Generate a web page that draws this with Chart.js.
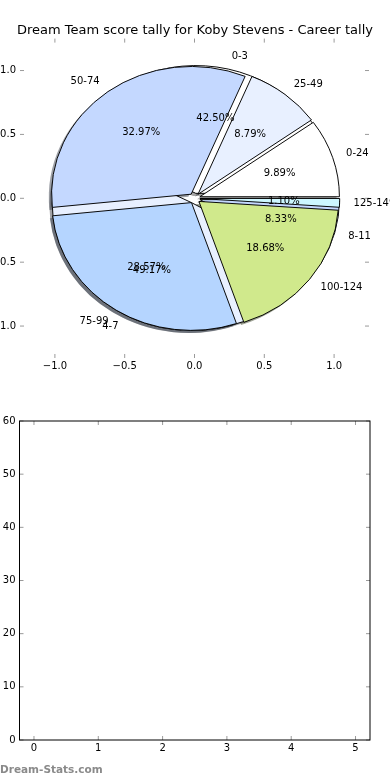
<!DOCTYPE html>
<html><head><meta charset="utf-8">
<script src="https://cdn.jsdelivr.net/npm/chart.js@4/dist/chart.umd.min.js"></script>
<style>
html,body{margin:0;padding:0;background:#fff;width:390px;height:780px;overflow:hidden;}
#wrap{position:relative;width:390px;height:780px;}
canvas{position:absolute;left:0;}
#wm{position:absolute;left:0;top:763px;font:bold 10.5px "DejaVu Sans",sans-serif;color:#8a8a8a;white-space:nowrap;}
</style></head><body>
<div id="wrap">
<canvas id="sh2" width="390" height="390" style="top:0"></canvas>
<canvas id="sh1" width="390" height="390" style="top:0"></canvas>
<canvas id="pie2" width="390" height="390" style="top:0"></canvas>
<canvas id="pie1" width="390" height="390" style="top:0"></canvas>
<canvas id="axes" width="390" height="390" style="top:0"></canvas>
<canvas id="bottom" width="390" height="385" style="top:395px"></canvas>
<div id="wm">Dream-Stats.com</div>
</div>
<script>
// ---- data ----
const titleText = 'Dream Team score tally for Koby Stevens - Career tally';
const scoreLabels = ['0-24', '25-49', '50-74', '75-99', '100-124', '125-149'];
const scoreValues = [9, 8, 30, 26, 17, 1];
const scoreColors = ['#ffffff', '#e8f0ff', '#c4d8ff', '#b5d5ff', '#d0e98c', '#cdf7ff'];
const tallyLabels = ['0-3', '4-7', '8-11'];
const tallyValues = [51, 59, 10];
const tallyColors = ['#ffffff', '#e8f0ff', '#c4d8ff'];
const pieAxisTicks = [-1.0, -0.5, 0.0, 0.5, 1.0];
const bottomCategories = [0, 1, 2, 3, 4, 5];
const bottomValues = [0, 0, 0, 0, 0, 0];
const bottomYTicks = [0, 10, 20, 30, 40, 50, 60];

// ---- style constants ----
const FONT = '"DejaVu Sans", sans-serif';
const EXPLODE = 0.04, LABEL_DIST = 1.1, PCT_DIST = 0.6;
const TICK_COLOR = '#9a9a9a', TICK_LEN = 4;
Chart.defaults.font.family = FONT;
Chart.defaults.font.size = 10;
Chart.defaults.color = '#000';

const fmt = v => (v < 0 ? '\u2212' : '') + Math.abs(v).toFixed(1);

function line(ctx, x1, y1, x2, y2) { ctx.beginPath(); ctx.moveTo(x1, y1); ctx.lineTo(x2, y2); ctx.stroke(); }

function drawInwardTicks(chart) {
  const ctx = chart.ctx, a = chart.chartArea, xs = chart.scales.x, ys = chart.scales.y;
  ctx.save();
  ctx.strokeStyle = TICK_COLOR; ctx.lineWidth = 1;
  xs.ticks.forEach(t => { const p = xs.getPixelForValue(t.value);
    line(ctx, p, a.top, p, a.top + TICK_LEN); line(ctx, p, a.bottom, p, a.bottom - TICK_LEN); });
  ys.ticks.forEach(t => { const p = ys.getPixelForValue(t.value);
    line(ctx, a.left, p, a.left + TICK_LEN, p); line(ctx, a.right, p, a.right - TICK_LEN, p); });
  ctx.restore();
}

function drawPieText(chart, labels, values) {
  const ctx = chart.ctx, xs = chart.scales.x, ys = chart.scales.y;
  const total = values.reduce((s, v) => s + v, 0);
  let acc = 0;
  ctx.save();
  ctx.fillStyle = '#000';
  ctx.font = '10px ' + FONT;
  ctx.textBaseline = 'middle';
  labels.forEach((lab, i) => {
    const frac = values[i] / total;
    const th = 2 * Math.PI * (acc + frac / 2); acc += frac;
    const c = Math.cos(th), s = Math.sin(th);
    const lx = EXPLODE * c + LABEL_DIST * c, ly = EXPLODE * s + LABEL_DIST * s;
    ctx.textAlign = lx < 0 ? 'right' : 'left';
    ctx.fillText(lab, xs.getPixelForValue(lx), ys.getPixelForValue(ly));
    const px = EXPLODE * c + PCT_DIST * c, py = EXPLODE * s + PCT_DIST * s;
    ctx.textAlign = 'center';
    ctx.fillText((frac * 100).toFixed(2) + '%', xs.getPixelForValue(px), ys.getPixelForValue(py));
  });
  ctx.restore();
}

const pieDecor = {
  id: 'pieDecor',
  afterDraw(chart) {
    drawInwardTicks(chart);
    drawPieText(chart, scoreLabels, scoreValues);
    drawPieText(chart, tallyLabels, tallyValues);
  }
};

const setTicks = arr => s => { s.ticks = arr.map(v => ({ value: v })); };

const axes = new Chart(document.getElementById('axes'), {
  type: 'scatter',
  data: { datasets: [] },
  options: {
    responsive: false, animation: false, events: [],
    layout: { padding: 0 },
    plugins: {
      legend: { display: false }, tooltip: { enabled: false },
      title: { display: true, text: titleText, color: '#000', font: { size: 13, weight: 'normal' }, padding: { top: 23, bottom: 0 } }
    },
    scales: {
      x: { type: 'linear', min: -1.25, max: 1.25, grid: { display: false, drawTicks: false }, border: { display: false },
           afterBuildTicks: setTicks(pieAxisTicks), afterFit: s => { s.height = 32; },
           ticks: { callback: v => fmt(v), padding: 2, maxRotation: 0, autoSkip: false, color: '#000' } },
      y: { type: 'linear', min: -1.25, max: 1.25, grid: { display: false, drawTicks: false }, border: { display: false },
           afterBuildTicks: setTicks(pieAxisTicks), afterFit: s => { s.width = 20; },
           ticks: { callback: v => fmt(v), padding: 4, autoSkip: false, color: '#000' } },
      yRight: { type: 'linear', position: 'right', min: -1.25, max: 1.25, grid: { display: false, drawTicks: false },
                border: { display: false }, ticks: { display: false }, afterFit: s => { s.width = 21; } }
    }
  },
  plugins: [pieDecor]
});

const xs = axes.scales.x, ys = axes.scales.y;
const cx = xs.getPixelForValue(0), cy = ys.getPixelForValue(0);
const R = xs.getPixelForValue(1) - cx;
const K = (cy - ys.getPixelForValue(1)) / R;

const ellipsePlugin = {
  id: 'ellipse',
  afterUpdate(chart, args, o) {
    chart.getDatasetMeta(0).data.forEach(arc => {
      const mid = (arc.startAngle + arc.endAngle) / 2;
      arc.x += Math.cos(mid) * o.explode * o.R + o.shiftX * o.R;
      arc.y += Math.sin(mid) * o.explode * o.R + o.shiftY * o.R;
    });
  },
  beforeDatasetsDraw(chart, args, o) {
    const ctx = chart.ctx; ctx.save();
    ctx.translate(o.cx, o.cy); ctx.scale(1, o.k); ctx.translate(-o.cx, -o.cy);
  },
  afterDatasetsDraw(chart) { chart.ctx.restore(); }
};

function shadowColor(hex) {
  const n = parseInt(hex.slice(1), 16);
  const r = (n >> 16) & 255, g = (n >> 8) & 255, b = n & 255;
  return `rgba(${Math.round(r * 0.3)},${Math.round(g * 0.3)},${Math.round(b * 0.3)},0.5)`;
}

function makePie(id, labels, values, colors, shadow) {
  const c = document.getElementById(id);
  const W = c.width, H = c.height;
  const pad = { left: Math.max(0, 2 * cx - W), right: Math.max(0, W - 2 * cx),
                top: Math.max(0, 2 * cy - H), bottom: Math.max(0, H - 2 * cy) };
  const bg = (shadow ? colors.map(shadowColor) : colors.slice()).reverse();
  return new Chart(c, {
    type: 'pie',
    data: { labels: labels.slice().reverse(),
            datasets: [{ data: values.slice().reverse(), backgroundColor: bg,
                         borderColor: '#000', borderWidth: shadow ? 0 : 1, rotation: 90, radius: R }] },
    options: {
      responsive: false, animation: false, events: [], rotation: 90, radius: R,
      layout: { padding: pad },
      plugins: { legend: { display: false }, tooltip: { enabled: false },
                 ellipse: { R: R, k: K, cx: cx, cy: cy, explode: EXPLODE,
                            shiftX: shadow ? -0.02 : 0, shiftY: shadow ? 0.02 : 0 } }
    },
    plugins: [ellipsePlugin]
  });
}

makePie('sh2', tallyLabels, tallyValues, tallyColors, true);
makePie('sh1', scoreLabels, scoreValues, scoreColors, true);
makePie('pie2', tallyLabels, tallyValues, tallyColors, false);
makePie('pie1', scoreLabels, scoreValues, scoreColors, false);

// ---- bottom (empty) chart ----
const frameDecor = {
  id: 'frameDecor',
  afterDraw(chart) {
    drawInwardTicks(chart);
    const ctx = chart.ctx, a = chart.chartArea;
    ctx.save(); ctx.strokeStyle = '#000'; ctx.lineWidth = 1;
    ctx.strokeRect(a.left, a.top, a.right - a.left, a.bottom - a.top);
    ctx.restore();
  }
};

new Chart(document.getElementById('bottom'), {
  type: 'bar',
  data: { datasets: [{ data: bottomCategories.map((c, i) => ({ x: c, y: bottomValues[i] })),
                       backgroundColor: '#b5d5ff', borderWidth: 0 }] },
  options: {
    responsive: false, animation: false, events: [],
    layout: { padding: { left: 0, right: 20, top: 26, bottom: 0 } },
    plugins: { legend: { display: false }, tooltip: { enabled: false } },
    scales: {
      x: { type: 'linear', offset: false, min: -0.225, max: 5.225, grid: { display: false, drawTicks: false, offset: false }, border: { display: false },
           afterBuildTicks: setTicks(bottomCategories), afterFit: s => { s.height = 40; },
           ticks: { callback: v => String(v), padding: 2, maxRotation: 0, autoSkip: false, color: '#000' } },
      y: { type: 'linear', min: 0, max: 60, grid: { display: false, drawTicks: false }, border: { display: false },
           afterBuildTicks: setTicks(bottomYTicks), afterFit: s => { s.width = 19.5; },
           ticks: { callback: v => String(v), padding: 4, autoSkip: false, color: '#000' } }
    }
  },
  plugins: [frameDecor]
});
</script>
</body></html>
